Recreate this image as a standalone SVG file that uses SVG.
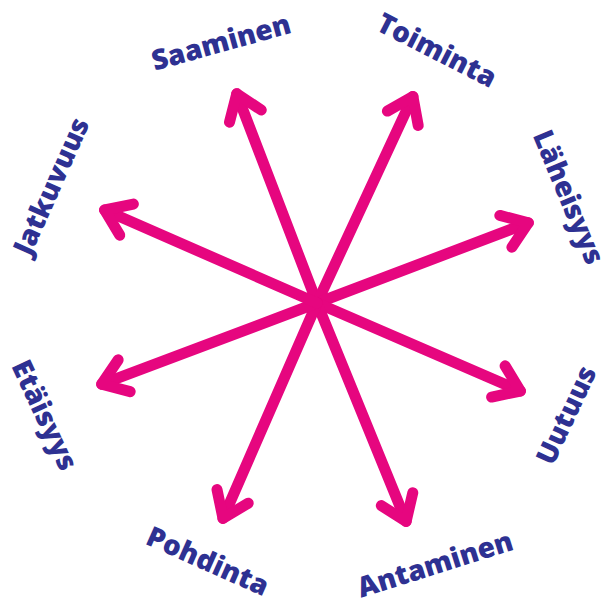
<svg xmlns="http://www.w3.org/2000/svg" width="614" height="605" viewBox="0 0 614 605">
<defs>
<style>
.lbl{font-family:"Open Sans","Liberation Sans",sans-serif;font-weight:800;font-size:28px;fill:#2e3192;text-anchor:middle}
.arr{stroke:#e6067f;stroke-width:11;stroke-linecap:round;stroke-linejoin:round;fill:none}
</style>
<marker id="head" markerUnits="userSpaceOnUse" orient="auto" refX="0" refY="0" markerWidth="60" markerHeight="60" overflow="visible">
<path d="M-24,-17 L0,0 L-24,17" class="arr"/>
</marker>
</defs>
<rect width="614" height="605" fill="#ffffff"/>
<g id="connectors">
<path class="arr" marker-end="url(#head)" d="M317,303 L236.8,93.7"/>
<path class="arr" marker-end="url(#head)" d="M317,303 L412.9,96.5"/>
<path class="arr" marker-end="url(#head)" d="M317,303 L528.3,222.8"/>
<path class="arr" marker-end="url(#head)" d="M317,303 L520.4,391"/>
<path class="arr" marker-end="url(#head)" d="M317,303 L406.1,521.4"/>
<path class="arr" marker-end="url(#head)" d="M317,303 L223,518.4"/>
<path class="arr" marker-end="url(#head)" d="M317,303 L101.7,384.2"/>
<path class="arr" marker-end="url(#head)" d="M317,303 L104.6,210"/>
</g>
<g id="saaminen"><text class="lbl" transform="translate(221,42) rotate(-15.5)" x="0" y="10">Saaminen</text></g>
<g id="toiminta"><text class="lbl" transform="translate(437,50) rotate(27)" x="0" y="10">Toiminta</text></g>
<g id="laheisyys"><text class="lbl" transform="translate(569,197) rotate(67.5)" x="0" y="10">Läheisyys</text></g>
<g id="uutuus"><text class="lbl" transform="translate(566,415) rotate(-65)" x="0" y="10">Uutuus</text></g>
<g id="antaminen"><text class="lbl" transform="translate(435,564) rotate(-17.5)" x="0" y="10">Antaminen</text></g>
<g id="pohdinta"><text class="lbl" transform="translate(208,561) rotate(24)" x="0" y="10">Pohdinta</text></g>
<g id="etaisyys"><text class="lbl" transform="translate(45,415) rotate(65)" x="0" y="10">Etäisyys</text></g>
<g id="jatkuvuus"><text class="lbl" transform="translate(51,186) rotate(-66)" x="0" y="10">Jatkuvuus</text></g>
</svg>
